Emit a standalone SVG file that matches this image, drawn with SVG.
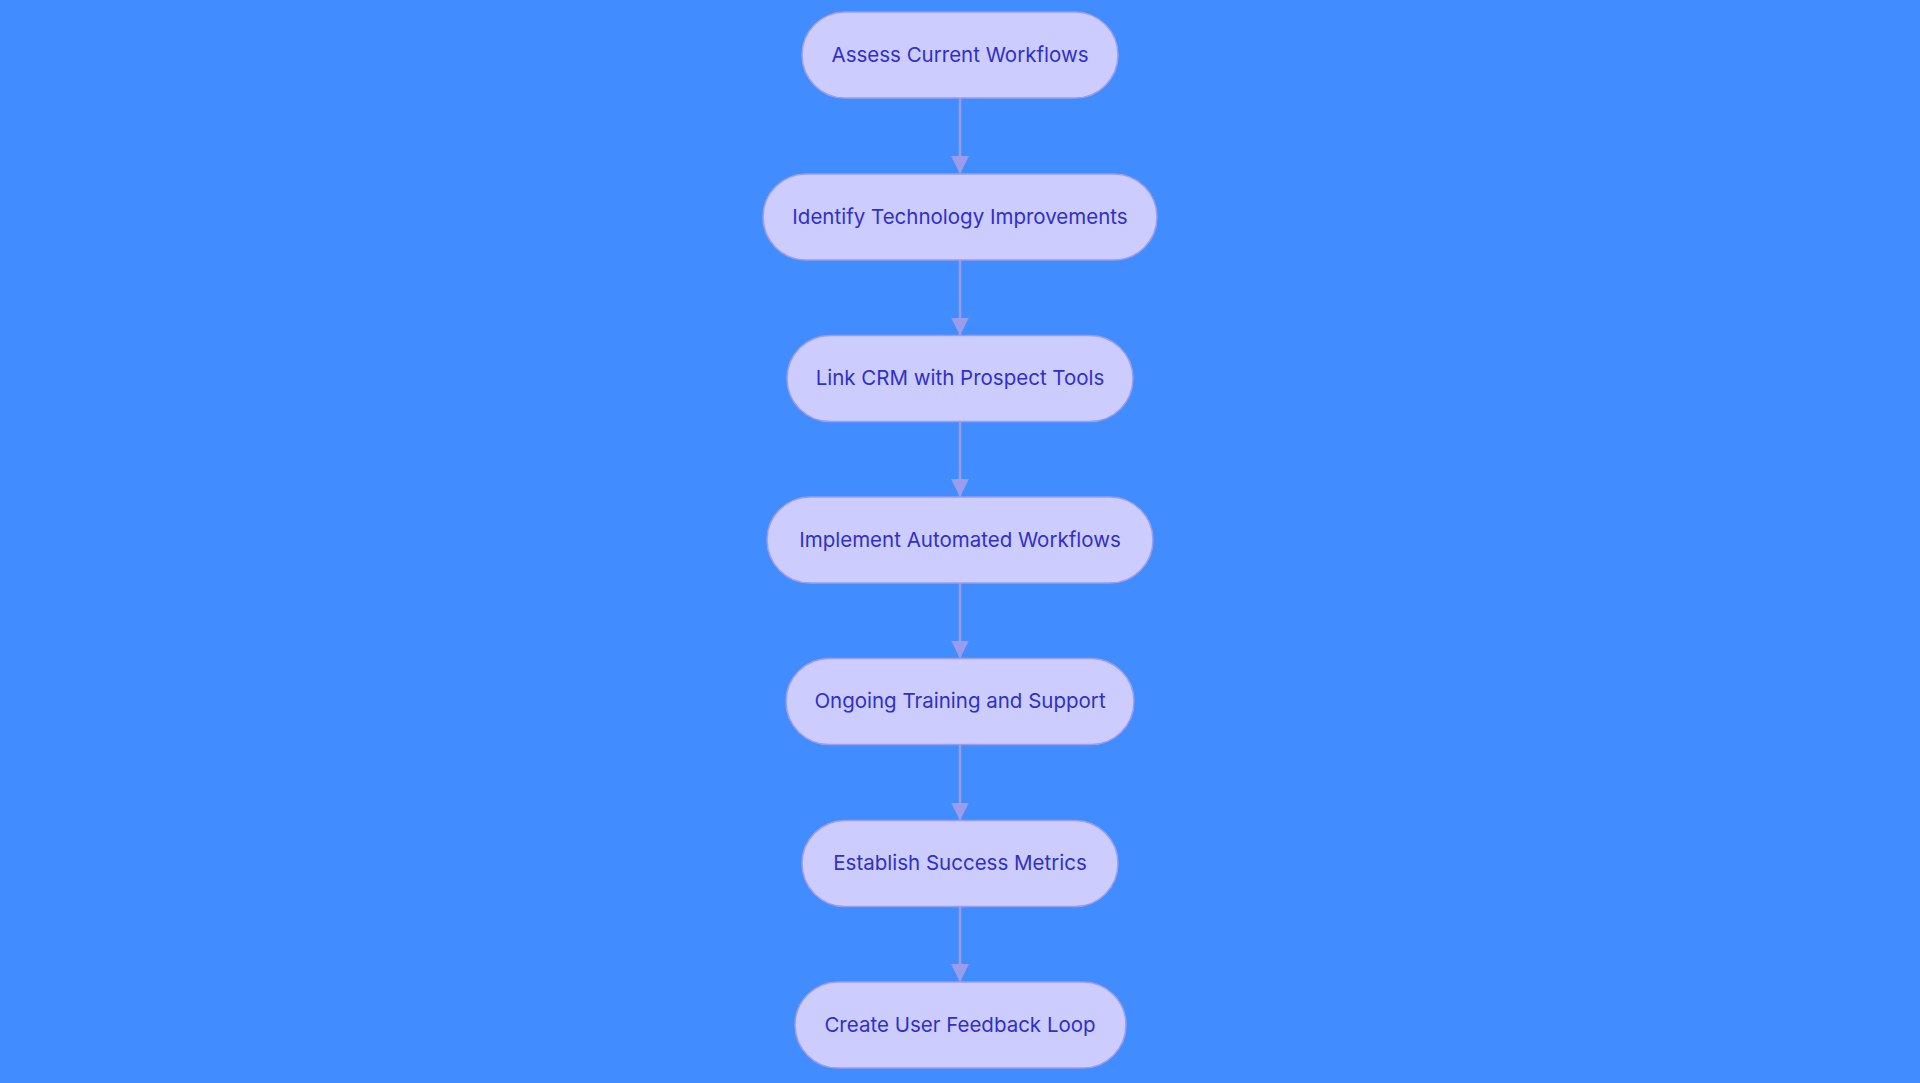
<svg xmlns="http://www.w3.org/2000/svg" width="1920" height="1083" viewBox="0 0 1920 1083">
<style>
.node rect{fill:#ccccff;stroke:#9c9cec;stroke-width:1.5}
.node text{font-family:Inter,"Open Sans","Liberation Sans",sans-serif;font-size:20.5px;fill:#3030c8;text-anchor:middle}
.edge{stroke:#9c9cec;stroke-width:2.5;fill:none}
</style>
<defs>
<marker id="arrow" viewBox="0 0 10 10" refX="10" refY="5" markerWidth="7.2" markerHeight="7.2" markerUnits="strokeWidth" orient="auto">
<path d="M0,0 L10,5 L0,10 z" fill="#9c9cec"/>
</marker>
</defs>
<rect width="1920" height="1083" fill="#418cff"/>
<g id="connectors">
<line class="edge" x1="960" y1="98" x2="960" y2="174" marker-end="url(#arrow)"/>
<line class="edge" x1="960" y1="260" x2="960" y2="335.5" marker-end="url(#arrow)"/>
<line class="edge" x1="960" y1="421.5" x2="960" y2="497" marker-end="url(#arrow)"/>
<line class="edge" x1="960" y1="583" x2="960" y2="658.5" marker-end="url(#arrow)"/>
<line class="edge" x1="960" y1="744.5" x2="960" y2="820.5" marker-end="url(#arrow)"/>
<line class="edge" x1="960" y1="906.5" x2="960" y2="982" marker-end="url(#arrow)"/>
</g>
<g id="n1" class="node"><rect x="802" y="12" width="316" height="86" rx="43"/><text x="960" y="61.5">Assess Current Workflows</text></g>
<g id="n2" class="node"><rect x="763" y="174" width="394" height="86" rx="43"/><text x="960" y="223.5">Identify Technology Improvements</text></g>
<g id="n3" class="node"><rect x="787" y="335.5" width="346" height="86" rx="43"/><text x="960" y="385">Link CRM with Prospect Tools</text></g>
<g id="n4" class="node"><rect x="767" y="497" width="386" height="86" rx="43"/><text x="960" y="546.5">Implement Automated Workflows</text></g>
<g id="n5" class="node"><rect x="786" y="658.5" width="348" height="86" rx="43"/><text x="960" y="708">Ongoing Training and Support</text></g>
<g id="n6" class="node"><rect x="802" y="820.5" width="316" height="86" rx="43"/><text x="960" y="870">Establish Success Metrics</text></g>
<g id="n7" class="node"><rect x="795" y="982" width="331" height="86" rx="43"/><text x="960" y="1031.5">Create User Feedback Loop</text></g>
</svg>
